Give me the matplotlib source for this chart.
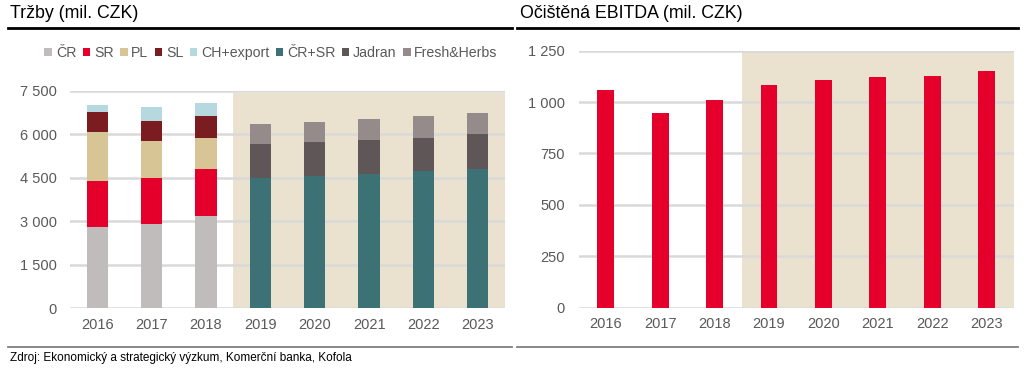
import matplotlib
matplotlib.use("Agg")
import matplotlib.pyplot as plt
from matplotlib.lines import Line2D
from matplotlib.patches import Patch
import numpy as np

plt.rcParams['font.family'] = ['Liberation Sans', 'DejaVu Sans']

years = ['2016', '2017', '2018', '2019', '2020', '2021', '2022', '2023']
cr = [2800, 2900, 3170, 0, 0, 0, 0, 0]
sr = [1600, 1600, 1650, 0, 0, 0, 0, 0]
pl = [1700, 1280, 1060, 0, 0, 0, 0, 0]
sl = [690, 690, 750, 0, 0, 0, 0, 0]
ch_export = [230, 485, 470, 0, 0, 0, 0, 0]
cr_sr = [0, 0, 0, 4510, 4550, 4615, 4720, 4790]
jadran = [0, 0, 0, 1145, 1175, 1200, 1165, 1210]
fresh_herbs = [0, 0, 0, 715, 705, 715, 760, 740]
ebitda = [1060, 947, 1008, 1082, 1105, 1121, 1127, 1150]

rev_series = [('ČR', cr, '#C0BCBC'), ('SR', sr, '#E4002B'), ('PL', pl, '#D7C595'),
              ('SL', sl, '#7B1C20'), ('CH+export', ch_export, '#B5D9DE'),
              ('ČR+SR', cr_sr, '#3C7275'), ('Jadran', jadran, '#5F5757'),
              ('Fresh&Herbs', fresh_herbs, '#958B8B')]

W, H = 1024, 369
fig = plt.figure(figsize=(W / 100, H / 100), dpi=100)

shade = '#EAE2CF'
grid_c = '#D9D9D9'
tick_c = '#595959'

def style(ax, ymax, ticks, labels, ypad):
    ax.set_xlim(-0.5, 7.5)
    ax.set_ylim(0, ymax)
    for s in ax.spines.values():
        s.set_visible(False)
    ax.set_yticks(ticks)
    ax.set_yticklabels(labels)
    ax.set_xticks(np.arange(len(years)))
    ax.set_xticklabels(years)
    ax.tick_params(length=0, colors=tick_c, labelsize=10.5)
    ax.tick_params(axis='y', pad=ypad)
    ax.tick_params(axis='x', pad=7)
    for t in ticks:
        ax.axhline(t, color=grid_c, lw=1.8, zorder=1)

# Left chart
ax1 = fig.add_axes([70 / W, 1 - 308 / H, 435 / W, 217 / H])
ax1.axvspan(2.5, 7.5, ymin=0, ymax=7440 / 7500, color=shade, zorder=0, lw=0)
x = np.arange(len(years))
bottom = np.zeros(len(years))
handles = []
for name, vals, col in rev_series:
    v = np.array(vals, dtype=float)
    ax1.bar(x, v, bottom=bottom, width=0.39, color=col, zorder=2, lw=0)
    bottom += v
    handles.append(Patch(facecolor=col, label=name))
style(ax1, 7500, [0, 1500, 3000, 4500, 6000, 7500],
      ['0', '1 500', '3 000', '4 500', '6 000', '7 500'], 9.5)

fig.legend(handles=handles, loc='center', bbox_to_anchor=(271 / W, 1 - 53 / H),
           ncol=8, frameon=False, handlelength=0.55, handleheight=0.55,
           handletextpad=0.25, columnspacing=0.45, fontsize=10.2,
           labelcolor=tick_c, borderaxespad=0, borderpad=0)

# Right chart
ax2 = fig.add_axes([578.7 / W, 1 - 307.5 / H, 435 / W, 256.8 / H])
ax2.axvspan(2.5, 7.5, ymin=0, ymax=1242 / 1250, color=shade, zorder=0, lw=0)
ax2.bar(x, ebitda, width=0.31, color='#E4002B', zorder=2, lw=0)
style(ax2, 1250, [0, 250, 500, 750, 1000, 1250],
      ['0', '250', '500', '750', '1 000', '1 250'], 10)

# Titles and rules
fig.text(10 / W, 1 - 14 / H, 'Tržby (mil. CZK)', fontsize=12.8, va='center', ha='left', color='black')
fig.text(520 / W, 1 - 14 / H, 'Očištěná EBITDA (mil. CZK)', fontsize=12.8, va='center', ha='left', color='black')
fig.add_artist(Line2D([8 / W, 512 / W], [1 - 27.5 / H] * 2, color='black', lw=2))
fig.add_artist(Line2D([517 / W, 1018 / W], [1 - 27.5 / H] * 2, color='black', lw=2))
fig.add_artist(Line2D([8 / W, 512 / W], [1 - 346.5 / H] * 2, color='#808080', lw=1.3))
fig.add_artist(Line2D([517 / W, 1018 / W], [1 - 346.5 / H] * 2, color='#808080', lw=1.3))
fig.text(10 / W, 1 - 358 / H, 'Zdroj: Ekonomický a strategický výzkum, Komerční banka, Kofola',
         fontsize=8.5, va='center', ha='left', color='black')

fig.savefig('out.png', dpi=100)
